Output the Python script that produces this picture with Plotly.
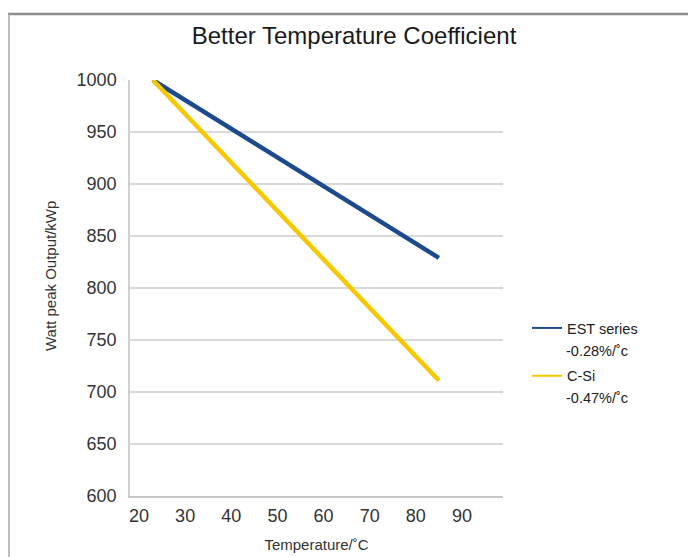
import plotly.graph_objects as go

# Data
temperature = [23, 85]
est_output = [1000, 829]
csi_output = [1000, 711]
series_names = ["EST series", "C-Si"]
coefficients = ["-0.28%/˚c", "-0.47%/˚c"]
x_ticks = [20, 30, 40, 50, 60, 70, 80, 90]
y_ticks = [600, 650, 700, 750, 800, 850, 900, 950, 1000]

FONT = "Liberation Sans, Arial, Helvetica, sans-serif"
BLUE = "#1C4A8C"
YELLOW = "#F7C800"

W, H = 688, 563
SY = H / 557.0  # reference pixel rows -> figure pixel rows

def sy(p):
    return p * SY

L, R = 130, 185
T, B = sy(79), H - sy(495)
pw, ph = W - L - R, H - T - B

def px_x(p):
    return (p - L) / pw

def px_y(p):
    return (H - B - sy(p)) / ph

fig = go.Figure()
fig.add_trace(go.Scatter(x=temperature, y=est_output, mode="lines", name=series_names[0],
                         showlegend=False, line=dict(color=BLUE, width=4.5)))
fig.add_trace(go.Scatter(x=temperature, y=csi_output, mode="lines", name=series_names[1],
                         showlegend=False, line=dict(color=YELLOW, width=4.5)))
# legend entries (thin sample lines like the reference)
fig.add_trace(go.Scatter(x=[None], y=[None], mode="lines", name=series_names[0],
                         legendgroup="a", line=dict(color=BLUE, width=2)))
fig.add_trace(go.Scatter(x=[None], y=[None], mode="lines", name=series_names[1],
                         legendgroup="b", line=dict(color=YELLOW, width=2)))

fig.update_layout(
    width=W, height=H,
    margin=dict(l=L, r=R, t=T, b=B),
    paper_bgcolor="white", plot_bgcolor="white",
    font=dict(family=FONT, color="#222222"),
    title=dict(text="Better Temperature Coefficient", font=dict(size=24, color="#1a1a1a"),
               xref="container", x=354 / W, xanchor="center",
               yref="container", y=1 - sy(35) / H, yanchor="middle"),
    xaxis=dict(range=[18.05, 98.9], tickvals=x_ticks, showgrid=False,
               showline=True, linecolor="#c8c8c8", linewidth=2,
               tickfont=dict(size=18, color="#333333"), ticks="", ticklabelstandoff=2,
               zeroline=False,
               title=dict(text="Temperature/˚C", font=dict(size=15, color="#333333"), standoff=15)),
    yaxis=dict(range=[600, 1000], tickvals=y_ticks, showgrid=True, gridcolor="#d9d9d9", gridwidth=1.5,
               showline=True, linecolor="#d0d0d0", linewidth=1.5,
               tickfont=dict(size=18, color="#333333"), ticks="", ticklabelstandoff=8,
               zeroline=False),
    legend=dict(x=px_x(527), xanchor="left", y=px_y(311), yanchor="top",
                font=dict(size=14.5, color="#222222"), tracegroupgap=26,
                bgcolor="rgba(0,0,0,0)", valign="top"),
    showlegend=True,
)

# y-axis title placed where the reference has it
fig.add_annotation(text="Watt peak Output/kWp", xref="paper", yref="paper", x=px_x(50), y=px_y(275),
                   xanchor="center", yanchor="middle", textangle=-90, showarrow=False,
                   font=dict(size=15, color="#333333"))

for i, c in enumerate(coefficients):
    fig.add_annotation(text=c, xref="paper", yref="paper", x=px_x(564), y=px_y(350 + 47 * i),
                       xanchor="left", yanchor="middle", showarrow=False,
                       font=dict(size=14.5, color="#222222"))

# outer frame
fig.add_shape(type="line", xref="paper", yref="paper", x0=px_x(8), x1=px_x(700), y0=px_y(13), y1=px_y(13),
              line=dict(color="#8c8c8c", width=2.5))
fig.add_shape(type="line", xref="paper", yref="paper", x0=px_x(9), x1=px_x(9), y0=px_y(13), y1=px_y(575),
              line=dict(color="#a8a8a8", width=1.5))

fig.write_html("out.html", config={"displayModeBar": False},
               post_script="document.body.style.margin='0';document.body.style.overflow='hidden';")
